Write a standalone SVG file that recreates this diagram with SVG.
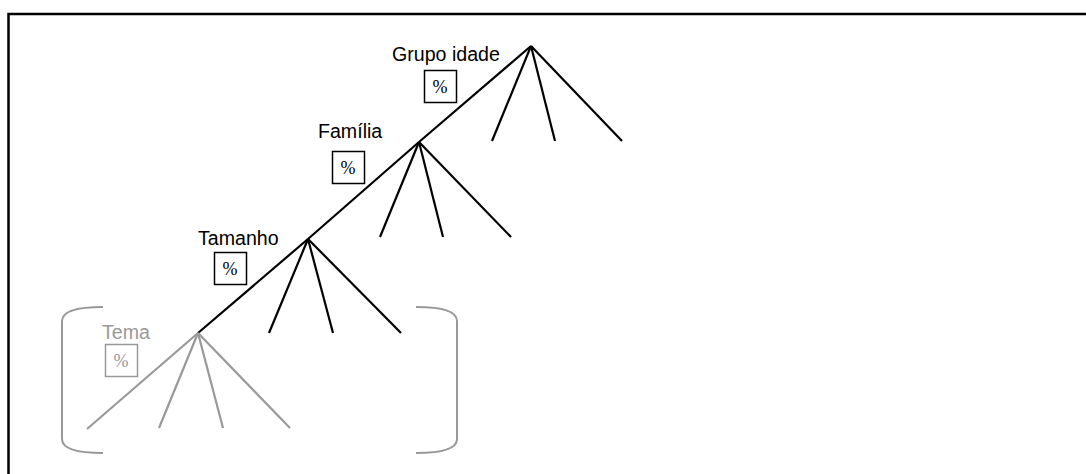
<svg xmlns="http://www.w3.org/2000/svg" width="1086" height="474" viewBox="0 0 1086 474">
  <style>
    .lbl { font-family: "Liberation Sans", Arial, sans-serif; font-size: 19.6px; fill: #000; }
    .lbl.dim { fill: #999; }
    .box { fill: #fff; stroke: #000; stroke-width: 1.5; }
    .box.dim { stroke: #999; }
    .pct { font-family: "Liberation Serif", "Times New Roman", serif; font-size: 18px; fill: #000; text-anchor: middle; }
    .pct.dim { fill: #999; }
    .edge { stroke: #000; stroke-width: 2.2; fill: none; stroke-linecap: butt; }
    .edge.dim { stroke: #999; }
    .bracket { stroke: #999; stroke-width: 2; fill: none; }
  </style>

  <!-- outer frame -->
  <rect x="8.5" y="14" width="1100" height="480" fill="none" stroke="#000" stroke-width="2.5"/>

  <!-- brackets around the lowest level -->
  <g id="bracket-left">
    <path class="bracket" d="M103,307 C76,307 62,311 62,321 L62,439 C62,449 76,453 103,453"/>
  </g>
  <g id="bracket-right">
    <path class="bracket" d="M416,307 C443,307 457,311 457,321 L457,439 C457,449 443,453 416,453"/>
  </g>

  <!-- connectors -->
  <g id="connectors">
    <!-- spine -->
    <line class="edge" x1="531" y1="46" x2="419" y2="142"/>
    <line class="edge" x1="419" y1="142" x2="308" y2="239"/>
    <line class="edge" x1="308" y1="239" x2="198" y2="333"/>
    <!-- Grupo idade branches -->
    <line class="edge" x1="531" y1="46" x2="492" y2="141"/>
    <line class="edge" x1="531" y1="46" x2="555" y2="141"/>
    <line class="edge" x1="531" y1="46" x2="622" y2="141"/>
    <!-- Família branches -->
    <line class="edge" x1="419" y1="142" x2="380" y2="237"/>
    <line class="edge" x1="419" y1="142" x2="443" y2="237"/>
    <line class="edge" x1="419" y1="142" x2="511" y2="237"/>
    <!-- Tamanho branches -->
    <line class="edge" x1="308" y1="239" x2="269" y2="333"/>
    <line class="edge" x1="308" y1="239" x2="333" y2="333"/>
    <line class="edge" x1="308" y1="239" x2="401" y2="333"/>
    <!-- Tema branches -->
    <line class="edge dim" x1="198" y1="333" x2="87" y2="429"/>
    <line class="edge dim" x1="198" y1="333" x2="159" y2="428"/>
    <line class="edge dim" x1="198" y1="333" x2="223" y2="428"/>
    <line class="edge dim" x1="198" y1="333" x2="290" y2="428"/>
  </g>

  <g id="node-grupo-idade">
    <text class="lbl" x="392" y="61">Grupo idade</text>
    <rect class="box" x="424.5" y="70.5" width="32" height="32"/>
    <text class="pct" x="440" y="93">%</text>
  </g>

  <g id="node-familia">
    <text class="lbl" x="318" y="138">Família</text>
    <rect class="box" x="332.5" y="151.5" width="32" height="32"/>
    <text class="pct" x="348" y="174">%</text>
  </g>

  <g id="node-tamanho">
    <text class="lbl" x="198" y="245">Tamanho</text>
    <rect class="box" x="214.5" y="252.5" width="32" height="32"/>
    <text class="pct" x="230" y="275">%</text>
  </g>

  <g id="node-tema">
    <text class="lbl dim" x="102" y="339">Tema</text>
    <rect class="box dim" x="105.5" y="344.5" width="32" height="32"/>
    <text class="pct dim" x="121" y="367">%</text>
  </g>
</svg>
